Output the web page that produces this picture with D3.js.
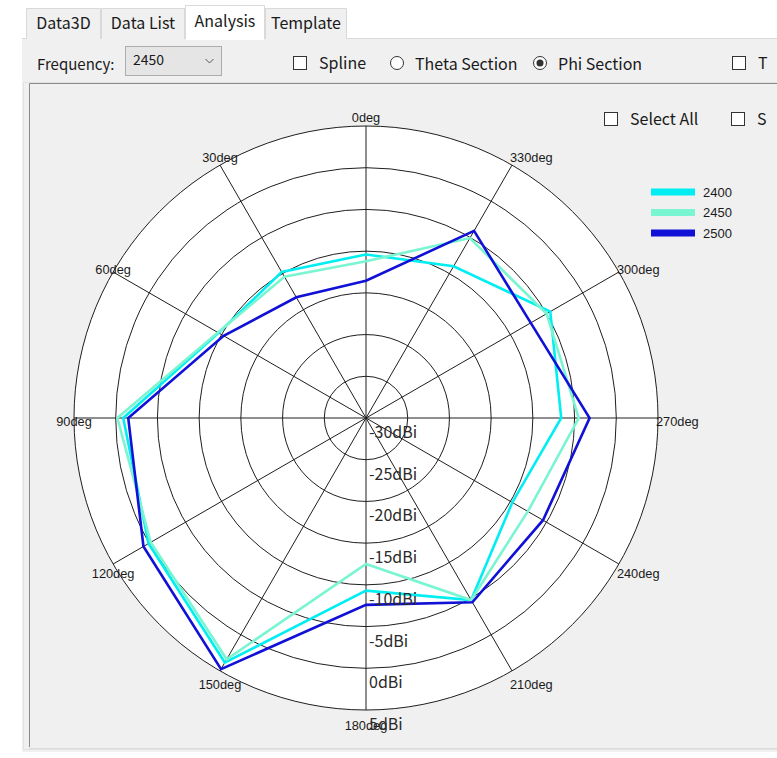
<!DOCTYPE html>
<html>
<head>
<meta charset="utf-8">
<script src="https://cdn.jsdelivr.net/npm/d3@7"></script>
<style>
  html, body { margin: 0; padding: 0; background: #ffffff; }
  svg { display: block; }
  .ui { font-family: "Noto Sans CJK SC", "Noto Sans", sans-serif; fill: #1a1a1a; }
  .deg { font-family: "Liberation Sans", Arial, sans-serif; font-size: 12.8px; fill: #1a1a1a; }
  .db { font-family: "Noto Sans CJK SC", "Noto Sans", sans-serif; font-size: 16px; fill: #2a2a2a; }
  .leg { font-family: "Liberation Sans", Arial, sans-serif; font-size: 13px; fill: #1a1a1a; }
</style>
</head>
<body>
<svg id="chart" width="777" height="758"></svg>
<script>
// Phi-section gain pattern, one value per 30 degree step (dBi)
const angles = [0, 30, 60, 90, 120, 150, 180, 210, 240, 270, 300, 330];
const gain2400 = [-10.4, -9.8, -9.6, -0.9, 0.1, 3.85, -9.3, -4.8, -9.75, -6.6, -4.5, -9.0];
const gain2450 = [-11.2, -10.45, -9.5, -0.2, -0.2, 3.4, -12.5, -4.8, -7.6, -4.5, -5.0, -5.1];
const gain2500 = [-13.55, -13.3, -10.3, -1.5, 0.8, 4.75, -7.6, -4.5, -5.5, -3.2, -7.2, -4.1];
const seriesNames = ["2400", "2450", "2500"];
const seriesColors = ["#00eef2", "#7af5d2", "#1010d6"];
const radialTicks = [-30, -25, -20, -15, -10, -5, 0, 5];
const tabs = ["Data3D", "Data List", "Analysis", "Template"];

const svg = d3.select("#chart");

// ---------- window chrome ----------
// toolbar strip and plot panel
svg.append("rect").attr("x", 22).attr("y", 38).attr("width", 755).attr("height", 714).attr("fill", "#f0f0f0");
svg.append("line").attr("x1", 22).attr("x2", 777).attr("y1", 38.5).attr("y2", 38.5).attr("stroke", "#d9d9d9");
svg.append("rect").attr("x", 23.5).attr("y", 82.5).attr("width", 760).attr("height", 667)
  .attr("fill", "#f0f0f0").attr("stroke", "#e2e2e2");
svg.append("path").attr("d", "M29.5,747 V83.5 H777").attr("fill", "none").attr("stroke", "#8a8a8a");
svg.append("line").attr("x1", 29).attr("x2", 777).attr("y1", 748.5).attr("y2", 748.5).attr("stroke", "#dcdcdc");

// tabs
const tabEdges = [26, 101, 185, 265, 347];
tabs.forEach((t, i) => {
  const sel = i === 2;
  const x0 = tabEdges[i], x1 = tabEdges[i + 1];
  const y0 = sel ? 5 : 8;
  svg.append("path")
    .attr("d", `M${x0 + 0.5},39 V${y0 + 0.5} H${x1 - 0.5} V39`)
    .attr("fill", sel ? "#ffffff" : "#f0f0f0")
    .attr("stroke", "#d9d9d9");
  svg.append("text").attr("class", "ui")
    .attr("x", (x0 + x1) / 2).attr("y", sel ? 27 : 29)
    .attr("text-anchor", "middle").attr("font-size", 16)
    .text(t);
});
svg.append("rect").attr("x", 186).attr("y", 37).attr("width", 78).attr("height", 3).attr("fill", "#ffffff");

// frequency selector
svg.append("text").attr("class", "ui").attr("x", 37).attr("y", 70).attr("font-size", 15).text("Frequency:");
svg.append("rect").attr("x", 125.5).attr("y", 46.5).attr("width", 96).attr("height", 29)
  .attr("fill", "#e5e5e5").attr("stroke", "#adadad");
svg.append("text").attr("class", "ui").attr("x", 133).attr("y", 65).attr("font-size", 14).text("2450");
svg.append("path").attr("d", "M205.5,59 L209.5,63 L213.5,59").attr("fill", "none").attr("stroke", "#555").attr("stroke-width", 1);

// option controls
function checkbox(x, y, label) {
  svg.append("rect").attr("x", x + 0.5).attr("y", y + 0.5).attr("width", 13).attr("height", 13)
    .attr("fill", "#ffffff").attr("stroke", "#333");
  if (label) svg.append("text").attr("class", "ui").attr("x", x + 26).attr("y", y + 13).attr("font-size", 16).text(label);
}
function radio(cx, cy, label, on) {
  svg.append("circle").attr("cx", cx).attr("cy", cy).attr("r", 6.5).attr("fill", "#fff").attr("stroke", "#333");
  if (on) svg.append("circle").attr("cx", cx).attr("cy", cy).attr("r", 3.5).attr("fill", "#333");
  svg.append("text").attr("class", "ui").attr("x", cx + 18).attr("y", cy + 7).attr("font-size", 16).text(label);
}
checkbox(293, 56, "Spline");
radio(397, 63, "Theta Section", false);
radio(540, 63, "Phi Section", true);
checkbox(732, 56, "T");
checkbox(604, 112, "Select All");
checkbox(731, 112, "S");

// ---------- polar plot ----------
const cx = 366, cy = 418, R = 292;
const r = d3.scaleLinear().domain([radialTicks[0], radialTicks[radialTicks.length - 1]]).range([0, R]);
const toRad = d => d * Math.PI / 180;
// angles run counter-clockwise from the top
const px = (deg, rad) => cx - rad * Math.sin(toRad(deg));
const py = (deg, rad) => cy - rad * Math.cos(toRad(deg));

const g = svg.append("g");
g.append("circle").attr("cx", cx).attr("cy", cy).attr("r", R).attr("fill", "#ffffff");

// rings
g.selectAll("circle.ring").data(radialTicks.slice(1)).join("circle")
  .attr("class", "ring").attr("cx", cx).attr("cy", cy).attr("r", d => r(d))
  .attr("fill", "none").attr("stroke", "#1e1e1e").attr("stroke-width", 1);

// spokes
g.selectAll("line.spoke").data(angles).join("line")
  .attr("class", "spoke")
  .attr("x1", cx).attr("y1", cy)
  .attr("x2", d => px(d, R)).attr("y2", d => py(d, R))
  .attr("stroke", "#1e1e1e").attr("stroke-width", 1);

// series
const line = d3.lineRadial()
  .angle(d => -toRad(d.a))
  .radius(d => r(d.v))
  .curve(d3.curveLinearClosed);
[gain2400, gain2450, gain2500].forEach((vals, i) => {
  g.append("path")
    .attr("transform", `translate(${cx},${cy})`)
    .attr("d", line(angles.map((a, k) => ({ a, v: vals[k] }))))
    .attr("fill", "none")
    .attr("stroke", seriesColors[i])
    .attr("stroke-width", 2.6)
    .attr("stroke-linejoin", "miter");
});

// angle labels
g.selectAll("text.deg").data(angles).join("text")
  .attr("class", "deg")
  .attr("x", d => d > 180 ? px(d, R) - 2 : px(d, R))
  .attr("y", d => py(d, R) + 3 - 12 * Math.cos(toRad(d)))
  .attr("dominant-baseline", "central")
  .attr("text-anchor", d => d > 180 ? "start" : "middle")
  .text(d => d + "deg");

// radial gain labels
g.selectAll("text.db").data(radialTicks).join("text")
  .attr("class", "db")
  .attr("x", cx + 3)
  .attr("y", d => cy + r(d) + 20)
  .text(d => d + "dBi");

// legend
const leg = svg.append("g");
seriesNames.forEach((n, i) => {
  const y = 192 + i * 20.5;
  leg.append("rect").attr("x", 651).attr("y", y - 3.5).attr("width", 44).attr("height", 7).attr("fill", seriesColors[i]);
  leg.append("text").attr("class", "leg").attr("x", 703).attr("y", y).attr("dominant-baseline", "central").text(n);
});
</script>
</body>
</html>
